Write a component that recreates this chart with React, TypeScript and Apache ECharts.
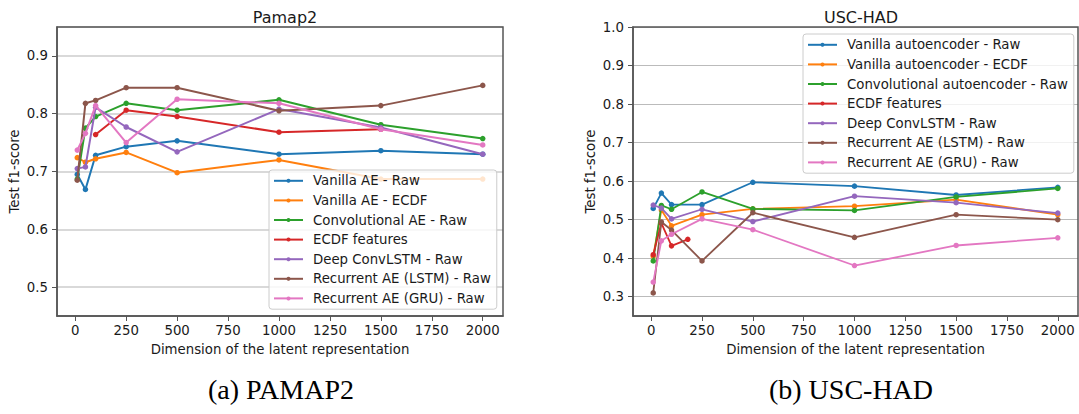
import React, { useEffect, useRef } from "react";
import * as echarts from "echarts";

// ---- data ----
const DIMS = [10, 50, 100, 250, 500, 1000, 1500, 2000];
const X_TICKS = [0, 250, 500, 750, 1000, 1250, 1500, 1750, 2000];
const PAMAP_ECDF_DIMS = [100, 250, 500, 1000, 1500];
const USC_ECDF_DIMS = [10, 50, 100, 180];

const PAMAP_NAMES = [
  "Vanilla AE - Raw",
  "Vanilla AE - ECDF",
  "Convolutional AE - Raw",
  "ECDF features",
  "Deep ConvLSTM - Raw",
  "Recurrent AE (LSTM) - Raw",
  "Recurrent AE (GRU) - Raw",
];
const USC_NAMES = [
  "Vanilla autoencoder - Raw",
  "Vanilla autoencoder - ECDF",
  "Convolutional autoencoder - Raw",
  "ECDF features",
  "Deep ConvLSTM - Raw",
  "Recurrent AE (LSTM) - Raw",
  "Recurrent AE (GRU) - Raw",
];

// Pamap2
const P_VANILLA_RAW = [0.695, 0.669, 0.728, 0.743, 0.753, 0.730, 0.736, 0.730];
const P_VANILLA_ECDF = [0.724, 0.716, 0.722, 0.733, 0.698, 0.720, 0.687, 0.687];
const P_CONV_RAW = [0.687, 0.775, 0.795, 0.818, 0.806, 0.824, 0.781, 0.757];
const P_ECDF = [0.764, 0.806, 0.795, 0.768, 0.773];
const P_CONVLSTM = [0.705, 0.708, 0.811, 0.777, 0.734, 0.808, 0.776, 0.730];
const P_LSTM = [0.685, 0.818, 0.823, 0.845, 0.845, 0.805, 0.814, 0.849];
const P_GRU = [0.737, 0.766, 0.814, 0.750, 0.825, 0.818, 0.773, 0.746];

// USC-HAD
const U_VANILLA_RAW = [0.529, 0.569, 0.539, 0.539, 0.597, 0.587, 0.564, 0.584];
const U_VANILLA_ECDF = [0.405, 0.525, 0.484, 0.513, 0.528, 0.535, 0.552, 0.513];
const U_CONV_RAW = [0.393, 0.537, 0.527, 0.572, 0.528, 0.524, 0.559, 0.581];
const U_ECDF = [0.409, 0.491, 0.432, 0.449];
const U_CONVLSTM = [0.538, 0.530, 0.502, 0.527, 0.495, 0.561, 0.544, 0.517];
const U_LSTM = [0.310, 0.494, 0.473, 0.393, 0.518, 0.454, 0.513, 0.500];
const U_GRU = [0.338, 0.445, 0.462, 0.502, 0.474, 0.381, 0.433, 0.453];

const COLORS = ["#1f77b4", "#ff7f0e", "#2ca02c", "#d62728", "#9467bd", "#8c564b", "#e377c2"];

const FONT = "DejaVu Sans";
const TEXT = "#1a1a1a";
const SPINE = "#555555";

function pairs(xs: number[], ys: number[]) {
  return xs.map((x, i) => [x, ys[i]]);
}

export default function App() {
  const ref = useRef<HTMLDivElement>(null);

  useEffect(() => {
    document.body.style.margin = "0";
    if (!ref.current) return;
    const chart = echarts.init(ref.current, null, { renderer: "svg" });

    const pamapData = [
      pairs(DIMS, P_VANILLA_RAW),
      pairs(DIMS, P_VANILLA_ECDF),
      pairs(DIMS, P_CONV_RAW),
      pairs(PAMAP_ECDF_DIMS, P_ECDF),
      pairs(DIMS, P_CONVLSTM),
      pairs(DIMS, P_LSTM),
      pairs(DIMS, P_GRU),
    ];
    const uscData = [
      pairs(DIMS, U_VANILLA_RAW),
      pairs(DIMS, U_VANILLA_ECDF),
      pairs(DIMS, U_CONV_RAW),
      pairs(USC_ECDF_DIMS, U_ECDF),
      pairs(DIMS, U_CONVLSTM),
      pairs(DIMS, U_LSTM),
      pairs(DIMS, U_GRU),
    ];

    const mkSeries = (names: string[], data: number[][][], idx: number, width: number) =>
      names.map((name, i) => ({
        name,
        type: "line",
        xAxisIndex: idx,
        yAxisIndex: idx,
        data: data[i],
        symbol: "circle",
        symbolSize: 5.5,
        showSymbol: true,
        color: COLORS[i],
        lineStyle: { width, color: COLORS[i] },
        itemStyle: { color: COLORS[i] },
        z: 3 + i * 0.01,
      }));

    const xAxisBase = (gridIndex: number) => ({
      type: "value",
      gridIndex,
      min: -89.5,
      max: 2099.5,
      name: "Dimension of the latent representation",
      nameLocation: "middle",
      nameGap: 27,
      nameTextStyle: { fontFamily: FONT, fontSize: 13.3, color: TEXT },
      axisLine: { show: true, onZero: false, lineStyle: { color: SPINE, width: 1.5 } },
      axisTick: { show: true, length: 5, customValues: X_TICKS, lineStyle: { color: SPINE, width: 1 } },
      axisLabel: {
        customValues: X_TICKS,
        margin: 8,
        fontFamily: FONT,
        fontSize: 13.3,
        color: TEXT,
        formatter: (v: number) => String(Math.round(v)),
      },
      splitLine: { show: false },
    });

    const yAxisBase = (gridIndex: number, min: number, max: number, split: number, showMax: boolean, gridColor: string, gridWidth: number) => ({
      type: "value",
      gridIndex,
      min,
      max,
      splitNumber: split,
      name: "Test f1-score",
      nameLocation: "middle",
      nameGap: 36,
      nameTextStyle: { fontFamily: FONT, fontSize: 13.3, color: TEXT },
      axisLine: { show: true, onZero: false, lineStyle: { color: SPINE, width: 1.5 } },
      axisTick: { show: true, length: 5, lineStyle: { color: SPINE, width: 1 } },
      axisLabel: {
        showMinLabel: false,
        showMaxLabel: showMax,
        margin: 9,
        fontFamily: FONT,
        fontSize: 13.3,
        color: TEXT,
        formatter: (v: number) => v.toFixed(1),
      },
      splitLine: { show: true, lineStyle: { color: gridColor, width: gridWidth } },
    });

    const legendBase = (names: string[], left: number, top: number) => ({
      data: names,
      orient: "vertical",
      left,
      top,
      itemWidth: 29,
      itemHeight: 5,
      itemGap: 0,
      padding: [1, 6, 1, 4],
      backgroundColor: "rgba(255,255,255,0.8)",
      borderColor: "#cccccc",
      borderWidth: 1,
      borderRadius: 3,
      selectedMode: false,
      textStyle: {
        fontFamily: FONT,
        fontSize: 13.3,
        lineHeight: 19.6,
        color: TEXT,
        padding: [0, 0, 0, 5],
      },
      z: 20,
    });

    const option = {
      animation: false,
      backgroundColor: "#ffffff",
      title: [
        {
          text: "Pamap2",
          left: 280,
          top: 4,
          textAlign: "center",
          textStyle: { fontFamily: FONT, fontSize: 16, fontWeight: "normal", color: TEXT },
        },
        {
          text: "USC-HAD",
          left: 856,
          top: 4,
          textAlign: "center",
          textStyle: { fontFamily: FONT, fontSize: 16, fontWeight: "normal", color: TEXT },
        },
        {
          text: "(a) PAMAP2",
          left: 276,
          top: 370,
          textAlign: "center",
          textStyle: { fontFamily: "Liberation Serif", fontSize: 28, fontWeight: "normal", color: "#000" },
        },
        {
          text: "(b) USC-HAD",
          left: 846,
          top: 370,
          textAlign: "center",
          textStyle: { fontFamily: "Liberation Serif", fontSize: 28, fontWeight: "normal", color: "#000" },
        },
      ],
      grid: [
        { left: 57, top: 27, width: 446, height: 289 },
        { left: 633, top: 27, width: 445, height: 289 },
      ],
      xAxis: [xAxisBase(0), xAxisBase(1)],
      yAxis: [
        yAxisBase(0, 0.45, 0.95, 5, false, "#cccccc", 1.5),
        yAxisBase(1, 0.25, 1.0, 7, true, "#bbbbbb", 1.2),
      ],
      legend: [legendBase(PAMAP_NAMES, 269, 170), legendBase(USC_NAMES, 803, 34)],
      graphic: [
        {
          type: "rect",
          shape: { x: 57, y: 27, width: 446, height: 289 },
          style: { fill: "none", stroke: SPINE, lineWidth: 1.5 },
          z: 100,
          silent: true,
        },
        {
          type: "rect",
          shape: { x: 633, y: 27, width: 445, height: 289 },
          style: { fill: "none", stroke: SPINE, lineWidth: 1.5 },
          z: 100,
          silent: true,
        },
      ],
      series: [...mkSeries(PAMAP_NAMES, pamapData, 0, 2), ...mkSeries(USC_NAMES, uscData, 1, 1.8)],
    };

    chart.setOption(option as any);
    return () => chart.dispose();
  }, []);

  return <div ref={ref} style={{ width: 1079, height: 414 }} />;
}
